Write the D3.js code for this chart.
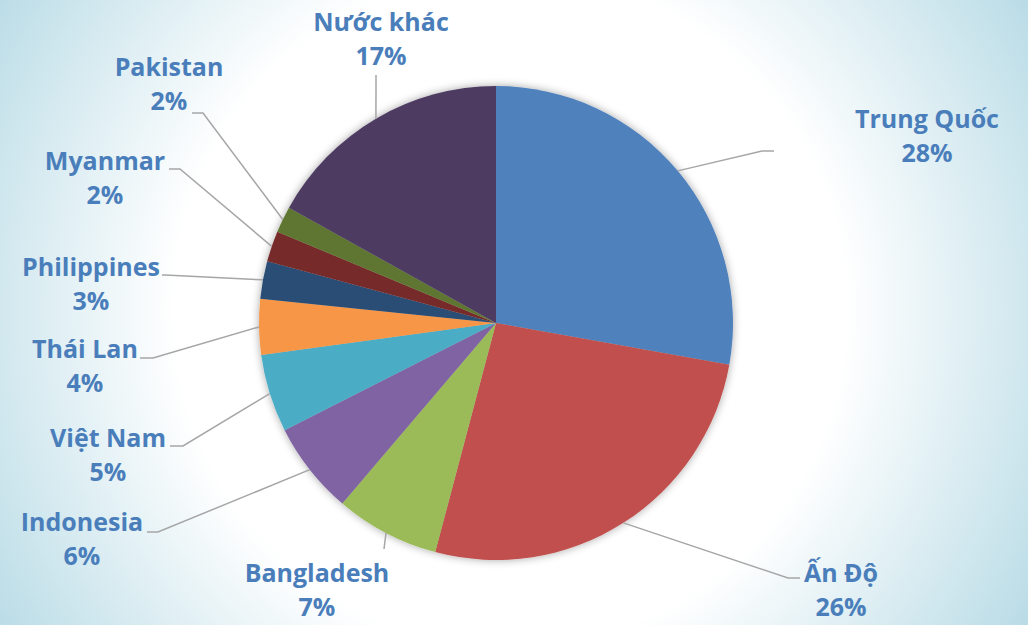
<!DOCTYPE html>
<html>
<head>
<meta charset="utf-8">
<script src="https://cdnjs.cloudflare.com/ajax/libs/d3/7.8.5/d3.min.js"></script>
<style>
  html, body { margin: 0; padding: 0; background: #ffffff; }
  .label { font-family: "Open Sans", "Noto Sans", sans-serif; font-weight: bold; fill: #4a7ebb; }
</style>
</head>
<body>
<div id="pie"></div>
<script>

  // countries (clockwise from 12 o'clock)
  var countries = ["Trung Quốc", "Ấn Độ", "Bangladesh", "Indonesia", "Việt Nam",
                   "Thái Lan", "Philippines", "Myanmar", "Pakistan", "Nước khác"]

  // share in percent
  var shares = [27.8, 26.3, 7.1, 6.3, 5.3, 3.8, 2.55, 2.1, 1.8, 16.9]

  // slice colours
  var sliceColors = ["#4f81bd", "#c0504d", "#9bbb59", "#8064a2", "#4bacc6",
                     "#f79646", "#2c4d75", "#772c2a", "#5f7530", "#4d3b62"]

  // where excel put the labels: leader elbow, leader end, text centre and first baseline
  var labelLayout = [
    {elbow: [762, 151], end: [774, 151], cx: 927, y: 128},
    {elbow: [788, 578], end: [800, 578], cx: 841, y: 582},
    {elbow: [384, 549], end: [384, 549], cx: 317, y: 582},
    {elbow: [158, 532], end: [147, 532], cx: 82, y: 531},
    {elbow: [183, 446], end: [170, 446], cx: 108, y: 447},
    {elbow: [153, 358], end: [140, 358], cx: 85, y: 358},
    {elbow: [165, 275], end: [162, 275], cx: 91, y: 276},
    {elbow: [180, 169], end: [169, 169], cx: 105, y: 170},
    {elbow: [203, 113], end: [192, 113], cx: 169, y: 76},
    {elbow: [376, 75], end: [376, 75], cx: 381, y: 31}
  ]

  var width = 1028,
      height = 625,
      cx = 496,
      cy = 323,
      radius = 237,
      lineGap = 34;

  var data = countries.map(function(c, i){
    return {key: c, value: shares[i], color: sliceColors[i], layout: labelLayout[i]}
  })

  var svg = d3.select("#pie")
    .append("svg")
    .attr("width", width)
    .attr("height", height)

  var defs = svg.append("defs")

  // soft blue background, white in the middle
  var bg = defs.append("radialGradient")
    .attr("id", "bg")
    .attr("gradientUnits", "userSpaceOnUse")
    .attr("cx", 510)
    .attr("cy", 310)
    .attr("r", 610)
  bg.append("stop").attr("offset", "0").attr("stop-color", "#ffffff")
  bg.append("stop").attr("offset", "0.55").attr("stop-color", "#ffffff")
  bg.append("stop").attr("offset", "1").attr("stop-color", "#b8dbe6")

  // shadow round the pie
  var shadow = defs.append("filter")
    .attr("id", "shadow")
    .attr("x", "-20%").attr("y", "-20%")
    .attr("width", "140%").attr("height", "140%")
  shadow.append("feDropShadow")
    .attr("dx", 0)
    .attr("dy", 0)
    .attr("stdDeviation", 4)
    .attr("flood-color", "#000000")
    .attr("flood-opacity", 0.35)

  svg.append("rect")
    .attr("width", width)
    .attr("height", height)
    .attr("fill", "url(#bg)")

  var pie = d3.pie()
    .sort(null)
    .value(function(d){ return d.value })

  var arc = d3.arc()
    .innerRadius(0)
    .outerRadius(radius)

  // point on the rim in the middle of a slice
  var rimArc = d3.arc()
    .innerRadius(radius)
    .outerRadius(radius)

  var arcs = pie(data)

  var plot = svg.append("g")
    .attr("transform", "translate(" + cx + "," + cy + ")")

  // slices
  plot.append("g")
    .attr("filter", "url(#shadow)")
    .selectAll("path")
    .data(arcs)
  .enter().append("path")
    .attr("d", arc)
    .attr("fill", function(d){ return d.data.color })

  // leader lines
  svg.selectAll(".leader")
    .data(arcs)
  .enter().append("polyline")
    .attr("class", "leader")
    .attr("fill", "none")
    .attr("stroke", "#a6a6a6")
    .attr("stroke-width", 1.5)
    .attr("points", function(d){
      var p = rimArc.centroid(d)
      var l = d.data.layout
      return [[p[0] + cx, p[1] + cy], l.elbow, l.end].map(function(q){ return q.join(",") }).join(" ")
    })

  // labels, name and percent
  var labels = svg.selectAll(".label")
    .data(arcs)
  .enter().append("text")
    .attr("class", "label")
    .attr("text-anchor", "middle")
    .style("font-size", "25px")

  labels.append("tspan")
    .attr("x", function(d){ return d.data.layout.cx })
    .attr("y", function(d){ return d.data.layout.y })
    .text(function(d){ return d.data.key })

  labels.append("tspan")
    .attr("x", function(d){ return d.data.layout.cx })
    .attr("y", function(d){ return d.data.layout.y + lineGap })
    .text(function(d){ return Math.round(d.data.value) + "%" })

</script>
</body>
</html>
